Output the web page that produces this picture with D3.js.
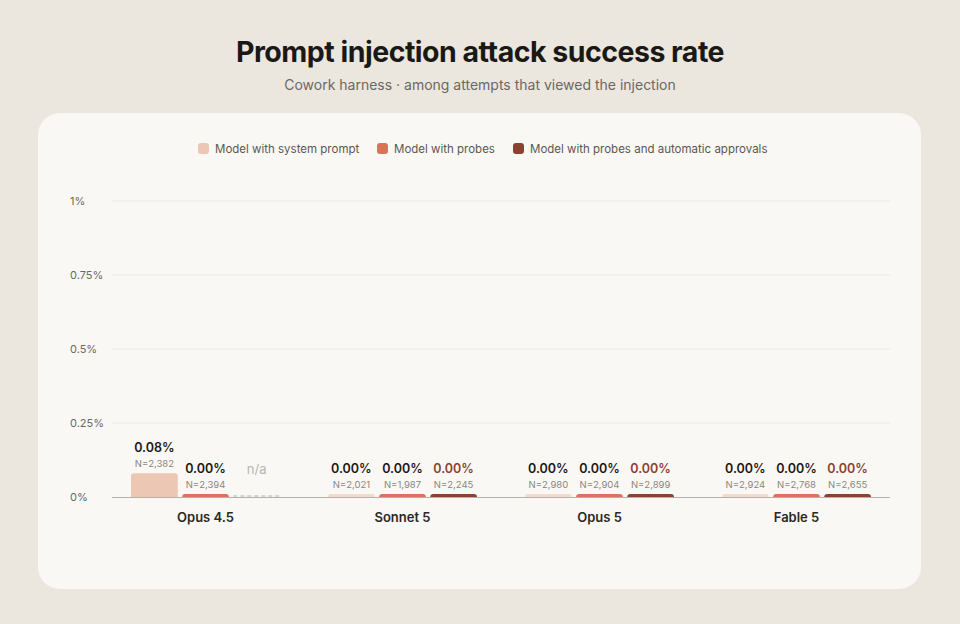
<!DOCTYPE html>
<html><head><meta charset="utf-8">
<script src="https://cdn.jsdelivr.net/npm/d3@7"></script>
<style>body{margin:0;background:#ebe7df;font-family:Inter,"Noto Sans",sans-serif}</style>
</head><body><svg id="c" width="960" height="624"></svg>
<script>
var models = ["Opus 4.5","Sonnet 5","Opus 5","Fable 5"]
var series = ["Model with system prompt","Model with probes","Model with probes and automatic approvals"]
var colors = ["#ecc7b3","#d9735a","#8b4330"]
var rates = [[0.08,0.00,null],[0.00,0.00,0.00],[0.00,0.00,0.00],[0.00,0.00,0.00]]
var counts = [["2,382","2,394",null],["2,021","1,987","2,245"],["2,980","2,904","2,899"],["2,924","2,768","2,655"]]
var ticks = [0,0.25,0.5,0.75,1]
var tickLabels = ["0%","0.25%","0.5%","0.75%","1%"]

var svg = d3.select("#c")
svg.append("text").attr("x",480).attr("y",62).attr("text-anchor","middle")
 .attr("font-size",28.5).attr("font-weight",700).attr("fill","#1a1915").attr("letter-spacing","-0.5")
 .text("Prompt injection attack success rate")
svg.append("text").attr("x",480).attr("y",90).attr("text-anchor","middle")
 .attr("font-size",14).attr("fill","#6b6862").text("Cowork harness · among attempts that viewed the injection")
svg.append("rect").attr("x",38).attr("y",113).attr("width",883).attr("height",476).attr("rx",22).attr("fill","#faf8f4")

// legend
var lx = [198,377,513]
series.forEach(function(s,i){
  svg.append("rect").attr("x",lx[i]).attr("y",143).attr("width",11).attr("height",11).attr("rx",3).attr("fill",colors[i])
  svg.append("text").attr("x",lx[i]+17).attr("y",152.5).attr("font-size",11.5).attr("fill","#5a5750").text(s)
})

var y = d3.scaleLinear().domain([0,1]).range([497,201])
var x0 = d3.scaleBand().domain(models).range([131,919])
var x1 = d3.scaleBand().domain([0,1,2]).range([0,149]).paddingInner(0.085)

ticks.forEach(function(t,i){
  if(i>0) svg.append("line").attr("x1",112).attr("x2",890).attr("y1",y(t)).attr("y2",y(t)).attr("stroke","#ebe8e1")
  svg.append("text").attr("x",70).attr("y",y(t)+4).attr("font-size",11).attr("fill","#6b6862").text(tickLabels[i])
})

models.forEach(function(m,gi){
  var g = svg.append("g").attr("transform","translate("+x0(m)+",0)")
  rates[gi].forEach(function(v,si){
    var bx = x1(si), bw = x1.bandwidth(), cx = bx+bw/2
    if(v===null){
      g.append("line").attr("x1",bx).attr("x2",bx+bw).attr("y1",496).attr("y2",496)
       .attr("stroke","#d8d5ce").attr("stroke-width",2).attr("stroke-dasharray","4,3")
      g.append("text").attr("x",cx).attr("y",474).attr("text-anchor","middle").attr("font-size",13).attr("fill","#b8b5ae").text("n/a")
      return
    }
    var top = Math.min(y(v), 494)
    g.append("path").attr("fill",colors[si]).attr("opacity", v===0&&si===0?0.6:1)
     .attr("d", "M"+bx+",497V"+(top+3)+"Q"+bx+","+top+" "+(bx+3)+","+top+"H"+(bx+bw-3)+"Q"+(bx+bw)+","+top+" "+(bx+bw)+","+(top+3)+"V497Z")
    g.append("text").attr("x",cx).attr("y",top-21).attr("text-anchor","middle").attr("font-size",12.5).attr("font-weight",600)
     .attr("fill", si===2?"#8b4330":"#1a1915").text(v.toFixed(2)+"%")
    g.append("text").attr("x",cx).attr("y",top-6).attr("text-anchor","middle").attr("font-size",9.5).attr("fill","#8a8780").text("N="+counts[gi][si])
  })
  svg.append("text").attr("x",x0(m)+x1.range()[1]/2).attr("y",522).attr("text-anchor","middle")
   .attr("font-size",13).attr("font-weight",600).attr("fill","#2a2925").text(m)
})
svg.append("line").attr("x1",112).attr("x2",890).attr("y1",497.5).attr("y2",497.5).attr("stroke","#b5b2ab")
</script></body></html>
